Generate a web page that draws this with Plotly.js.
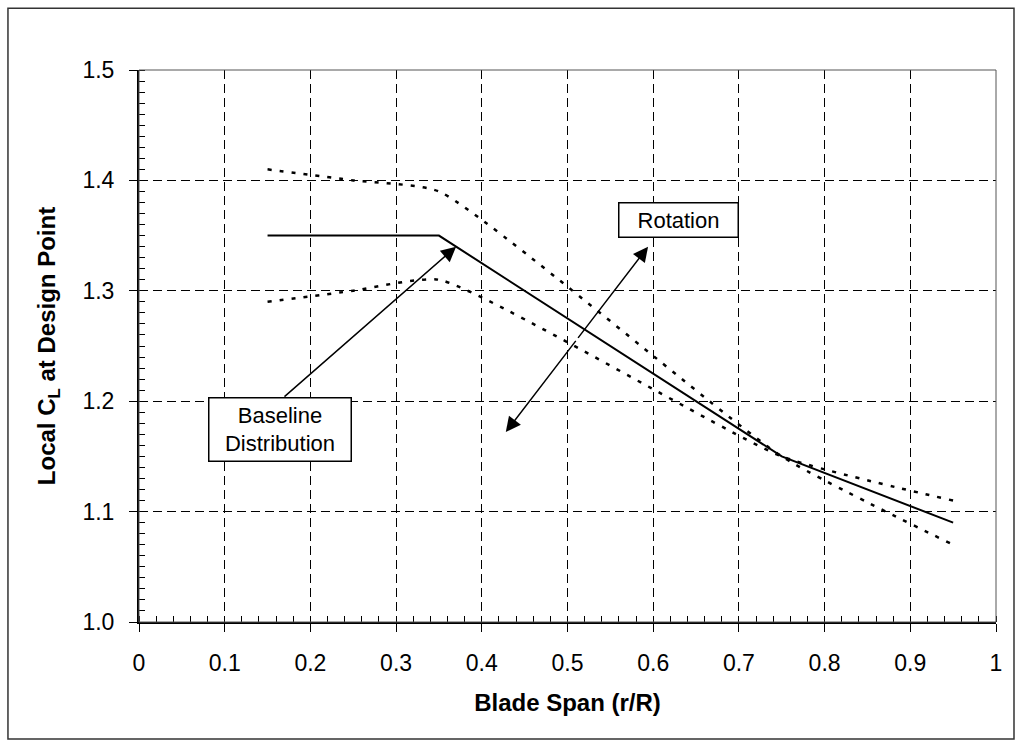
<!DOCTYPE html>
<html>
<head>
<meta charset="utf-8">
<script src="https://cdn.plot.ly/plotly-3.0.1.min.js"></script>
<style>html,body{margin:0;padding:0;background:#fff;}#chart{width:1022px;height:747px;}</style>
</head>
<body>
<div id="chart"></div>
<script>
// Data
const spanBaseline = [0.15, 0.35, 0.75, 0.95];
const clBaseline   = [1.35, 1.35, 1.15, 1.09];
const spanUpper    = [0.15, 0.25, 0.35, 0.75, 0.95];
const clUpper      = [1.41, 1.40, 1.39, 1.15, 1.07];
const spanLower    = [0.15, 0.25, 0.35, 0.75, 0.95];
const clLower      = [1.29, 1.30, 1.31, 1.15, 1.11];
const xTickVals = [0, 0.1, 0.2, 0.3, 0.4, 0.5, 0.6, 0.7, 0.8, 0.9, 1];
const xTickText = ['0', '0.1', '0.2', '0.3', '0.4', '0.5', '0.6', '0.7', '0.8', '0.9', '1'];
const yTickVals = [1.0, 1.1, 1.2, 1.3, 1.4, 1.5];
const yTickText = ['1.0', '1.1', '1.2', '1.3', '1.4', '1.5'];

const FONT = 'Liberation Sans, Arial, sans-serif';

const traces = [
  {x: spanUpper, y: clUpper, mode: 'lines', line: {color: '#000', width: 2.5, dash: '4px,8px', shape: 'spline', smoothing: 0.5}, hoverinfo: 'skip'},
  {x: spanLower, y: clLower, mode: 'lines', line: {color: '#000', width: 2.5, dash: '4px,8px', shape: 'spline', smoothing: 0.5}, hoverinfo: 'skip'},
  {x: spanBaseline, y: clBaseline, mode: 'lines', line: {color: '#000', width: 2}, hoverinfo: 'skip'}
];

const axisCommon = {
  showline: true, linecolor: '#000', linewidth: 2,
  ticks: 'outside', ticklen: 8, tickwidth: 1, tickcolor: '#000',
  showgrid: true, gridcolor: '#000', gridwidth: 1, griddash: '9px,5px',
  zeroline: false, automargin: false,
  tickfont: {family: FONT, size: 23, color: '#000'}
};

const layout = {
  width: 1022, height: 747,
  margin: {l: 139, r: 26, t: 70, b: 125},
  paper_bgcolor: '#fff', plot_bgcolor: '#fff',
  showlegend: false,
  font: {family: FONT, color: '#000'},
  xaxis: Object.assign({}, axisCommon, {
    range: [0, 1], tickmode: 'array', tickvals: xTickVals, ticktext: xTickText,
    ticklabelstandoff: 11,
    minor: {dtick: 0.02, ticks: 'inside', ticklen: 6, tickwidth: 1, tickcolor: '#000', showgrid: false},
    title: {text: '<b>Blade Span (r/R)</b>', font: {family: FONT, size: 24, color: '#000'}, standoff: 20}
  }),
  yaxis: Object.assign({}, axisCommon, {
    range: [1.0, 1.5], tickmode: 'array', tickvals: yTickVals, ticktext: yTickText,
    ticklabelstandoff: 10,
    minor: {dtick: 0.01, ticks: 'inside', ticklen: 6, tickwidth: 1, tickcolor: '#000', showgrid: false},
    title: {text: '<b>Local C<sub>L</sub> at Design Point</b>', font: {family: FONT, size: 24, color: '#000'}, standoff: 20}
  }),
  shapes: [
    {type: 'rect', xref: 'paper', yref: 'paper', x0: 0, x1: 1, y0: 0, y1: 1, line: {color: '#555', width: 1}},
    {type: 'rect', xref: 'paper', yref: 'paper', x0: -0.1529, x1: 1.021, y0: -0.212, y1: 1.112, line: {color: '#333', width: 1.5}}
  ],
  annotations: [
    // Baseline arrow
    {x: 0.37, y: 1.34, ax: 0.168, ay: 1.203, axref: 'x', ayref: 'y', xref: 'x', yref: 'y', text: '',
     showarrow: true, arrowhead: 2, arrowsize: 2, arrowwidth: 1.5, arrowcolor: '#000'},
    // Rotation double arrow (two halves from the middle)
    {x: 0.594, y: 1.340, ax: 0.511, ay: 1.256, axref: 'x', ayref: 'y', xref: 'x', yref: 'y', text: '',
     showarrow: true, arrowhead: 2, arrowsize: 2, arrowwidth: 1.5, arrowcolor: '#000'},
    {x: 0.428, y: 1.172, ax: 0.511, ay: 1.256, axref: 'x', ayref: 'y', xref: 'x', yref: 'y', text: '',
     showarrow: true, arrowhead: 2, arrowsize: 2, arrowwidth: 1.5, arrowcolor: '#000'},
    // Text boxes
    {x: 0.629, y: 1.364, xref: 'x', yref: 'y', text: 'Rotation', showarrow: false,
     font: {family: FONT, size: 22, color: '#000'}, bgcolor: '#fff', bordercolor: '#000', borderwidth: 1.5,
     width: 116, height: 31, borderpad: 1},
    {x: 0.165, y: 1.174, xref: 'x', yref: 'y', text: 'Baseline<br>Distribution', showarrow: false,
     font: {family: FONT, size: 22, color: '#000'}, bgcolor: '#fff', bordercolor: '#000', borderwidth: 1.5,
     width: 139, height: 60, borderpad: 1}
  ]
};

Plotly.newPlot('chart', traces, layout, {staticPlot: true, displayModeBar: false});
</script>
</body>
</html>
